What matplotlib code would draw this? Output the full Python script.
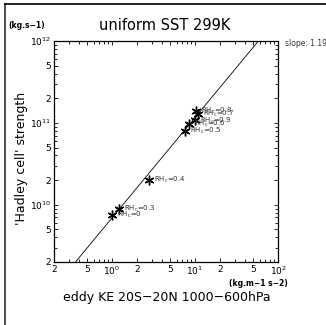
import numpy as np
import matplotlib
matplotlib.use('Agg')
import matplotlib.pyplot as plt
from matplotlib.lines import Line2D

plt.rcParams['font.family'] = ['DejaVu Sans']
plt.rcParams['mathtext.default'] = 'regular'

# eddy KE (kg m-1 s-2) and Hadley cell strength (kg s-1)
rh_labels = ['0.8', '0.7', '0.9', '0.6', '0.5', '0.4', '0.3', '0']
eddy_ke = [10.2, 10.8, 10.0, 8.5, 7.6, 2.8, 1.22, 0.99]
hadley = [1.40e11, 1.29e11, 1.07e11, 9.7e10, 8.0e10, 2.02e10, 8.9e9, 7.55e9]
slope_text = 'slope: 1.19'

xticks = [0.2, 0.5, 1, 2, 5, 10, 20, 50, 100]
xticklabels = ['2', '5', '$10^{0}$', '2', '5', '$10^{1}$', '2', '5', '$10^{2}$']
yticks = [2e9, 5e9, 1e10, 2e10, 5e10, 1e11, 2e11, 5e11, 1e12]
yticklabels = ['2', '5', '$10^{10}$', '2', '5', '$10^{11}$', '2', '5', '$10^{12}$']

fig = plt.figure(figsize=(3.26, 3.25), dpi=100)
ax = fig.add_axes([54 / 326, 1 - 262 / 325, 224 / 326, 221 / 325])
ax.set_xscale('log')
ax.set_yscale('log')
ax.set_xlim(0.2, 100)
ax.set_ylim(2e9, 1e12)

# log-log fit line
lx = np.log10(eddy_ke)
ly = np.log10(hadley)
b, a = np.polyfit(lx, ly, 1)
xl = np.array([0.2, 100])
ax.plot(xl, 10 ** (a + b * np.log10(xl)), color='black', lw=0.6)

ax.plot(eddy_ke, hadley, linestyle='none', marker=(6, 2, 0), ms=7,
        mew=1.0, color='black')
for lab, xv, yv in zip(rh_labels, eddy_ke, hadley):
    ax.annotate('RH$_c$=' + lab, (xv, yv), xytext=(3.5, 0),
                textcoords='offset points', fontsize=5, va='center',
                color='#333333')

ax.xaxis.set_major_locator(matplotlib.ticker.FixedLocator(xticks))
ax.xaxis.set_major_formatter(matplotlib.ticker.FixedFormatter(xticklabels))
ax.yaxis.set_major_locator(matplotlib.ticker.FixedLocator(yticks))
ax.yaxis.set_major_formatter(matplotlib.ticker.FixedFormatter(yticklabels))
ax.xaxis.set_minor_locator(matplotlib.ticker.LogLocator(base=10, subs=np.arange(2, 10)))
ax.yaxis.set_minor_locator(matplotlib.ticker.LogLocator(base=10, subs=np.arange(2, 10)))
ax.xaxis.set_minor_formatter(matplotlib.ticker.NullFormatter())
ax.yaxis.set_minor_formatter(matplotlib.ticker.NullFormatter())
ax.tick_params(which='both', direction='in', top=True, right=True,
               labelsize=6.5, width=0.6, pad=2)
ax.tick_params(which='major', length=3)
ax.tick_params(which='minor', length=2.5)
for s in ax.spines.values():
    s.set_linewidth(0.9)

fig.text(165 / 326, 1 - 26 / 325, 'uniform SST 299K', ha='center',
         va='center', fontsize=10.5)
fig.text(8 / 326, 1 - 25 / 325, '(kg.s\u22121)', ha='left', va='center',
         fontsize=5.5, fontweight='bold')
fig.text(288 / 326, 1 - 283 / 325, '(kg.m\u22121 s\u22122)', ha='right',
         va='center', fontsize=5.5, fontweight='bold')
fig.text(167 / 326, 1 - 297 / 325, 'eddy KE 20S\u221220N 1000\u2212600hPa',
         ha='center', va='center', fontsize=9)
fig.text(22 / 326, 1 - 158 / 325, "'Hadley cell' strength", ha='center',
         va='center', rotation=90, fontsize=9)
fig.text(285 / 326, 1 - 43 / 325, slope_text, ha='left', va='center',
         fontsize=5.5, color='#333333')

# outer frame
fig.add_artist(Line2D([5 / 326, 5 / 326], [0, 1 - 4 / 325], color='#555555', lw=1.5))
fig.add_artist(Line2D([5 / 326, 1], [1 - 4 / 325, 1 - 4 / 325], color='black', lw=1.2))

fig.savefig('out.png', dpi=100)
